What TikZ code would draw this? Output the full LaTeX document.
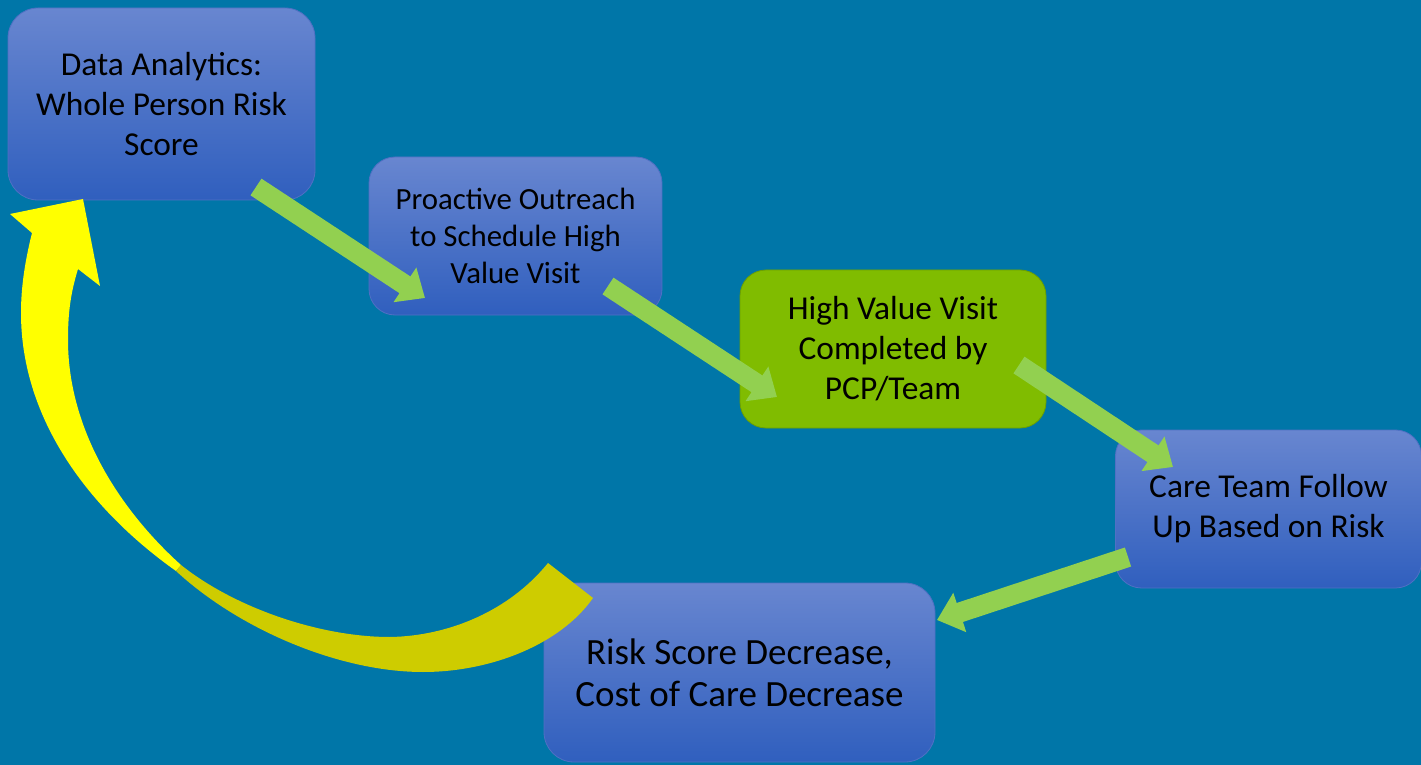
\documentclass[tikz,border=0pt]{standalone}
\usepackage{fontspec}
\setmainfont{Carlito}
\usetikzlibrary{arrows.meta}
\definecolor{bg}{RGB}{0,118,168}
\definecolor{boxtop}{RGB}{104,134,208}
\definecolor{boxbot}{RGB}{48,95,190}
\definecolor{boxedge}{RGB}{80,112,196}
\definecolor{visitgreen}{RGB}{128,188,0}
\definecolor{arrowgreen}{RGB}{146,208,80}
\definecolor{yellowA}{RGB}{255,255,0}
\definecolor{yellowB}{RGB}{206,204,0}
\tikzset{
  box/.style={rectangle, rounded corners=15pt, top color=boxtop, bottom color=boxbot,
    draw=boxedge, line width=0.4pt, align=center, inner sep=0pt, text=black},
  greenbox/.style={rectangle, rounded corners=13pt, fill=visitgreen,
    draw=visitgreen!85!black, line width=0.4pt, align=center, inner sep=0pt, text=black},
  garrow/.style={draw=arrowgreen, line width=10pt, -{Triangle[length=12pt,width=20pt]}},
  fA/.style={font=\fontsize{16.7}{20}\selectfont},
  fB/.style={font=\fontsize{15.4}{18.5}\selectfont},
  fC/.style={font=\fontsize{18.5}{21}\selectfont}
}
\begin{document}
\begin{tikzpicture}[x=0.5pt,y=-0.5pt]
\fill[bg] (0,0) rectangle (1421,765);
\useasboundingbox (0,0) rectangle (1421,765);

\node[box, fA, minimum width=153.5pt, minimum height=96pt] (n1) at (161.5,104)
  {Data Analytics:\\Whole Person Risk\\Score};
\node[box, fB, rounded corners=13pt, minimum width=146.5pt, minimum height=79pt] (n2) at (515.5,236)
  {Proactive Outreach\\to Schedule High\\Value Visit};
\node[greenbox, fA, minimum width=153pt, minimum height=79pt] (n3) at (893,349)
  {High Value Visit\\Completed by\\PCP/Team};
\node[box, fA, rounded corners=13pt, minimum width=153pt, minimum height=79pt] (n4) at (1268.5,509)
  {\raisebox{-1.5pt}{}Care Team Follow\\Up Based on Risk};
\node[box, fC, minimum width=195.5pt, minimum height=89.5pt] (n5) at (739.5,672.5)
  {Risk Score Decrease,\\Cost of Care Decrease};

\coordinate (a1s) at (256,187); \coordinate (a1e) at (425,298);
\coordinate (a2s) at (608,286); \coordinate (a2e) at (777,397);
\coordinate (a3s) at (1019,365); \coordinate (a3e) at (1173,467);
\coordinate (a4s) at (1128,557); \coordinate (a4e) at (937,620);
\draw[garrow] (a1s) -- (a1e);
\draw[garrow] (a2s) -- (a2e);
\draw[garrow] (a3s) -- (a3e);
\draw[garrow] (a4s) -- (a4e);

% curved return arrow
\coordinate (tip) at (83,199);
\coordinate (P) at (181,565);
\coordinate (Q) at (176,571);
\fill[yellowA] (tip) -- (100,286) -- (78,269)
  .. controls (70,295) and (68,315) .. (68,340)
  .. controls (68,430) and (120,510) .. (P)
  -- (Q)
  .. controls (90,510) and (21,420) .. (21,313)
  .. controls (21,290) and (24,265) .. (32,233)
  -- (10,214) -- cycle;
\fill[yellowB] (P)
  .. controls (235,608) and (320,637) .. (390,637)
  .. controls (450,636) and (510,610) .. (548,563)
  -- (593,598)
  .. controls (560,645) and (490,672) .. (423,672)
  .. controls (340,672) and (240,630) .. (Q)
  -- cycle;
\end{tikzpicture}
\end{document}
